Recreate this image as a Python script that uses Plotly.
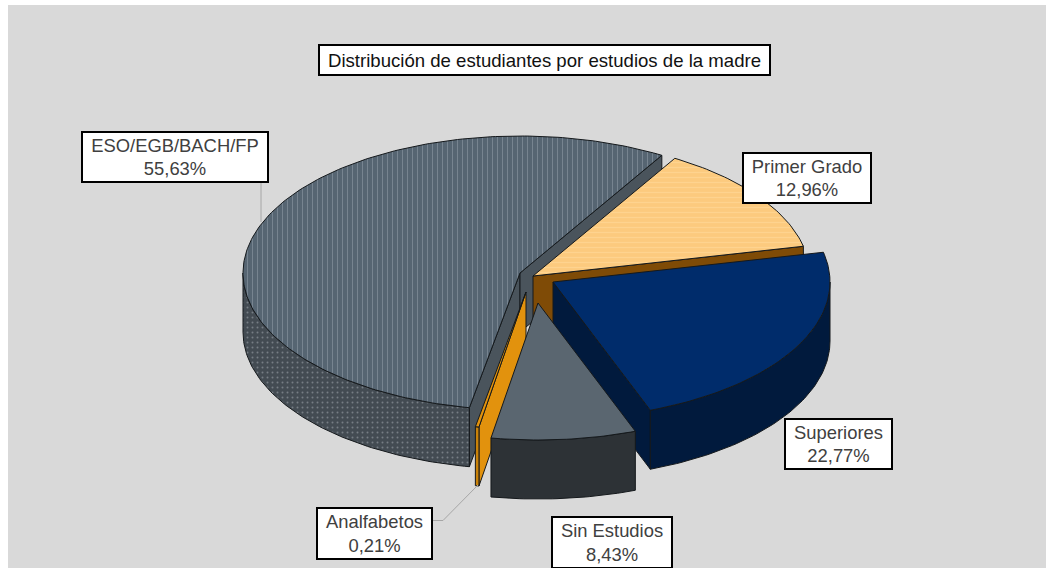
import math
import plotly.graph_objects as go

categories = ["Primer Grado", "Superiores", "Sin Estudios", "Analfabetos", "ESO/EGB/BACH/FP"]
values = [12.96, 22.77, 8.43, 0.21, 55.63]

# pie geometry (paper pixels)
START_DEG = 30.8
RX, RY, DEPTH = 277, 137, 59
APEX_X = [533, 553, 538, 526, 520]
APEX_Y = [276, 282, 303, 292, 273]
TOP_COL = ["#fdcd85", "#002c6b", "#5a6670", "#e2920d", "#5a6875"]
WALL_COL = ["#7f4b06", "#011a3d", "#2d3236", "#c98209", "#444c54"]
CUT_COL = ["#7f4b06", "#011a3d", "#2d3236", "#e2920d", "#4a545c"]
DRAW_ORDER = [4, 0, 1, 3, 2]
EDGE = "#15191c"

BOX_CX = [806.5, 838, 611.5, 374, 174.5]
BOX_CY = [177.5, 443.5, 542, 533, 156.5]
BOX_W = [129, 108, 121, 116, 187]
BOX_H = [51, 51, 52, 52, 51]

fig = go.Figure()


def pt(i, t, down=0):
    r = math.radians(t)
    return APEX_X[i] + RX * math.sin(r), APEX_Y[i] - RY * math.cos(r) + down


def arc(i, t0, t1, down=0):
    n = max(2, int(abs(t1 - t0)) + 2)
    return [pt(i, t0 + (t1 - t0) * k / (n - 1), down) for k in range(n)]


def poly(points, color, pattern=None, line=EDGE, lw=1):
    xs = [p[0] for p in points] + [points[0][0]]
    ys = [p[1] for p in points] + [points[0][1]]
    kw = {}
    if pattern:
        kw["fillpattern"] = pattern
    fig.add_trace(go.Scatter(x=xs, y=ys, mode="lines", fill="toself", fillcolor=color,
                             line=dict(color=line, width=lw), hoverinfo="skip",
                             showlegend=False, **kw))


bounds = []
t = START_DEG
for v in values:
    bounds.append((t, t + v * 3.6))
    t += v * 3.6

TOP_PATTERN = {
    0: dict(shape="-", size=5, solidity=0.25, fgcolor="#ffdca0", bgcolor="#fcca7e"),
    4: dict(shape="|", size=5, solidity=0.2, fgcolor="#97a4ad", bgcolor="#566572"),
}
WALL_PATTERN = {
    4: dict(shape=".", size=5, solidity=0.12, fgcolor="#a9b0b6", bgcolor="#434b52"),
}

for i in DRAW_ORDER:
    t0, t1 = bounds[i]
    apex = (APEX_X[i], APEX_Y[i])
    apex_low = (APEX_X[i], APEX_Y[i] + DEPTH)
    # cut faces that look towards the viewer
    for tc, normal in ((t0, t0 - 90), (t1, t1 + 90)):
        if math.cos(math.radians(normal)) < 0:
            poly([apex, pt(i, tc), pt(i, tc, DEPTH), apex_low], CUT_COL[i])
    # outer wall: the part of the rim facing the viewer
    for k in range(-1, 2):
        a = max(t0, 90 + 360 * k)
        b = min(t1, 270 + 360 * k)
        if b > a:
            poly(arc(i, a, b) + arc(i, b, a, DEPTH), WALL_COL[i], WALL_PATTERN.get(i))
    # top face
    poly([apex] + arc(i, t0, t1), TOP_COL[i], TOP_PATTERN.get(i))

# leader lines
fig.add_trace(go.Scatter(x=[261, 261], y=[182, 222], mode="lines",
                         line=dict(color="#a6a6a6", width=1), hoverinfo="skip", showlegend=False))
fig.add_trace(go.Scatter(x=[432, 443, 478], y=[520.5, 520.5, 485], mode="lines",
                         line=dict(color="#a6a6a6", width=1), hoverinfo="skip", showlegend=False))

FONT = "Liberation Sans, Arial, sans-serif"
for i, (c, v) in enumerate(zip(categories, values)):
    txt = f"{c}<br>{v:.2f}".replace(".", ",") + "%"
    fig.add_annotation(x=BOX_CX[i], y=BOX_CY[i], text=txt, showarrow=False, xref="x", yref="y",
                       xanchor="center", yanchor="middle", align="center",
                       width=BOX_W[i] - 3, height=BOX_H[i] - 3, borderpad=0,
                       bgcolor="white", bordercolor="black", borderwidth=2,
                       font=dict(family=FONT, size=18.4, color="#404040"))

fig.add_annotation(x=544, y=59.5, text="Distribución de estudiantes por estudios de la madre",
                   showarrow=False, xref="x", yref="y", xanchor="center", yanchor="middle",
                   width=449, height=28, borderpad=0, bgcolor="white", bordercolor="black",
                   borderwidth=2, font=dict(family=FONT, size=18.6, color="#111111"))

fig.add_shape(type="rect", x0=8, x1=1046, y0=5, y1=568, xref="x", yref="y",
              fillcolor="#d9d9d9", line=dict(width=0), layer="below")

fig.update_layout(
    width=1046, height=568, margin=dict(l=0, r=0, t=0, b=0),
    paper_bgcolor="white", plot_bgcolor="white", showlegend=False,
    xaxis=dict(range=[0, 1046], visible=False, fixedrange=True),
    yaxis=dict(range=[568, 0], visible=False, fixedrange=True),
)
fig.write_html("out.html", config={"displayModeBar": False},
               post_script="document.body.style.margin='0';document.body.style.overflow='hidden';")
